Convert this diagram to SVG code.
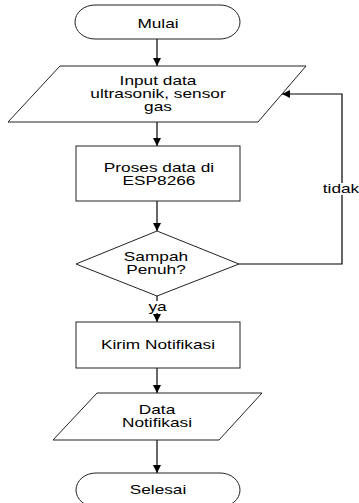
<svg xmlns="http://www.w3.org/2000/svg" width="359" height="503" viewBox="0 0 359 503">
<defs>
<marker id="arr" viewBox="0 0 10 10" refX="10" refY="5" markerWidth="8" markerHeight="8" markerUnits="userSpaceOnUse" orient="auto">
<path d="M0,0 L10,5 L0,10 z" fill="#000"/>
</marker>
<style>
.shape{fill:#fff;stroke:#222;stroke-width:1}
.line{fill:none;stroke:#000;stroke-width:1.2}
text{font-family:"Liberation Sans",Arial,sans-serif;font-size:12px;fill:#000;text-anchor:middle}
.bg{fill:#fff}
</style>
</defs>
<rect width="359" height="503" fill="#fff"/>
<g id="connectors">
<line class="line" x1="157" y1="39" x2="157" y2="66" marker-end="url(#arr)"/>
<line class="line" x1="157" y1="122" x2="157" y2="146" marker-end="url(#arr)"/>
<line class="line" x1="157" y1="201" x2="157" y2="231" marker-end="url(#arr)"/>
<line class="line" x1="157" y1="296" x2="157" y2="322" marker-end="url(#arr)"/>
<line class="line" x1="157" y1="368" x2="157" y2="393" marker-end="url(#arr)"/>
<line class="line" x1="157" y1="440" x2="157" y2="473" marker-end="url(#arr)"/>
<polyline class="line" points="239,264 342,264 342,94 282,94" marker-end="url(#arr)"/>
<rect class="bg" x="148" y="301" width="19" height="12"/>
<text transform="translate(157.5,311) scale(1.44,1)">ya</text>
<rect class="bg" x="323" y="183" width="36" height="12"/>
<text transform="translate(341,193) scale(1.44,1)">tidak</text>
</g>
<g id="mulai">
<path class="shape" d="M95,5 L220,5 A20,17 0 0 1 220,39 L95,39 A20,17 0 0 1 95,5 z"/>
<text transform="translate(158,27.5) scale(1.44,1)">Mulai</text>
</g>
<g id="input">
<polygon class="shape" points="60,66 306,66 258,122 8,122"/>
<text transform="translate(158,85) scale(1.44,1)">Input data</text>
<text transform="translate(158,98) scale(1.44,1)">ultrasonik,  sensor</text>
<text transform="translate(158,111) scale(1.44,1)">gas</text>
</g>
<g id="proses">
<rect class="shape" x="76" y="146" width="164" height="55"/>
<text transform="translate(159,172) scale(1.44,1)">Proses data di</text>
<text transform="translate(159,185) scale(1.44,1)">ESP8266</text>
</g>
<g id="keputusan">
<polygon class="shape" points="157,231 239,264 157,296 76,264"/>
<text transform="translate(156,261) scale(1.44,1)">Sampah</text>
<text transform="translate(156,274) scale(1.44,1)">Penuh?</text>
</g>
<g id="kirim">
<rect class="shape" x="76" y="322" width="164" height="46"/>
<text transform="translate(158,349) scale(1.44,1)">Kirim Notifikasi</text>
</g>
<g id="data">
<polygon class="shape" points="97,393 262,393 219,440 53,440"/>
<text transform="translate(157,414) scale(1.44,1)">Data</text>
<text transform="translate(157,427) scale(1.44,1)">Notifikasi</text>
</g>
<g id="selesai">
<path class="shape" d="M96,473 L220,473 A20,17 0 0 1 220,507 L96,507 A20,17 0 0 1 96,473 z"/>
<text transform="translate(158,494) scale(1.44,1)">Selesai</text>
</g>
</svg>
